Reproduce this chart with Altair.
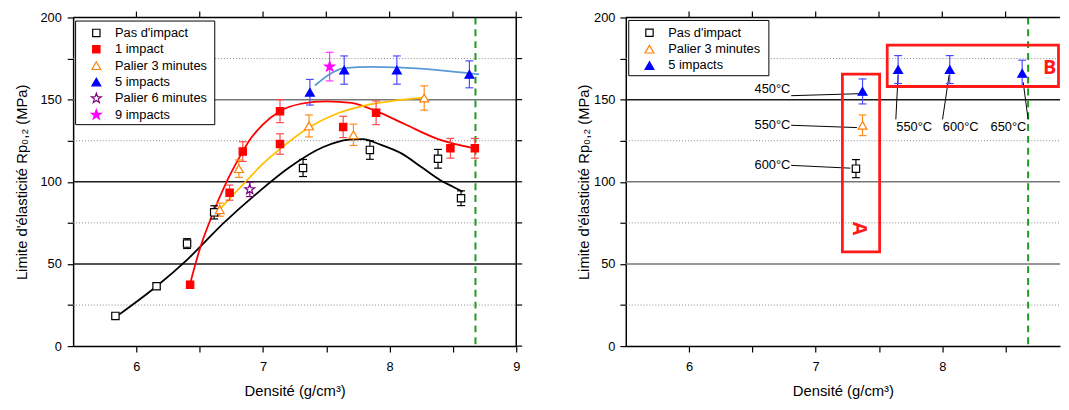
import math
import altair as alt
import pandas as pd

FONT = "Liberation Sans"

# 5-point star as a custom symbol path (Vega has no built-in star)
_pts = []
for k in range(10):
    r = 1.0 if k % 2 == 0 else 0.40
    a = math.radians(-90 + 36 * k)
    _pts.append("%.3f,%.3f" % (r * math.cos(a), r * math.sin(a)))
STAR = "M" + "L".join(_pts) + "Z"

# ---------------- Left panel data ----------------
series_names = ["Pas d'impact", "1 impact", "Palier 3 minutes", "5 impacts", "Palier 6 minutes", "9 impacts"]
series_stroke = ["#000000", "#ff0000", "#ff7f00", "#0000ff", "#800080", "#ff00ff"]
series_fill = ["#ffffff", "#ff0000", "#ffffff", "#0000ff", "#ffffff", "#ff00ff"]
series_shape = ["square", "square", "triangle-up", "triangle-up", STAR, STAR]
series_size = [55, 55, 80, 80, 110, 110]
series_err = ["#000000", "#ff4a4a", "#ff8c1a", "#4a4aff", "#800080", "#ff33ff"]

pas_x = [5.834, 6.159, 6.40, 6.614, 7.316, 7.844, 8.382, 8.564]
pas_y = [18.4, 36.4, 62.4, 81.4, 108.4, 119.4, 114.0, 90.0]
pas_e = [1.5, 1.5, 3.0, 4.0, 5.2, 5.7, 5.7, 4.5]

imp1_x = [6.424, 6.736, 6.84, 7.134, 7.134, 7.633, 7.893, 8.48, 8.673]
imp1_y = [37.4, 93.4, 118.4, 143.0, 123.0, 133.4, 142.0, 120.4, 120.4]
imp1_e = [0.0, 4.6, 6.0, 7.0, 6.2, 6.5, 7.2, 6.0, 6.0]

p3_x = [6.658, 6.809, 7.363, 7.714, 8.273]
p3_y = [83.0, 108.0, 134.0, 128.6, 151.0]
p3_e = [4.0, 5.3, 6.7, 6.5, 7.4]

imp5_x = [7.37, 7.641, 8.057, 8.63]
imp5_y = [154.5, 168.0, 168.0, 165.4]
imp5_e = [7.8, 8.6, 8.6, 8.2]

p6_x = [6.895]
p6_y = [95.4]
p6_e = [4.4]

imp9_x = [7.526]
imp9_y = [170.1]
imp9_e = [8.7]

# fitted curves
fit_black_x = [5.86, 6.159, 6.406, 6.69, 6.952, 7.212, 7.472, 7.68, 7.79, 7.914, 8.1, 8.25, 8.4, 8.5, 8.577]
fit_black_y = [19.0, 36.4, 53.0, 75.0, 93.0, 109.0, 121.0, 125.6, 126.0, 123.0, 117.0, 109.0, 101.0, 97.0, 94.0]
fit_red_x = [6.424, 6.5, 6.6, 6.7, 6.8, 6.9, 7.0, 7.134, 7.3, 7.5, 7.7, 7.893, 8.122, 8.382, 8.673]
fit_red_y = [38.0, 59.0, 80.0, 98.0, 113.0, 126.0, 135.0, 143.0, 147.5, 149.0, 148.0, 143.0, 135.0, 126.0, 120.4]
fit_gold_x = [6.63, 6.8, 7.0, 7.134, 7.342, 7.602, 7.836, 8.05, 8.273]
fit_gold_y = [81.0, 95.0, 111.0, 120.0, 132.0, 142.0, 147.0, 149.5, 151.4]
fit_blue_x = [7.41, 7.526, 7.641, 7.862, 8.057, 8.382, 8.707]
fit_blue_y = [158.6, 165.5, 169.2, 170.0, 169.6, 168.0, 165.4]
fit_colors = ["#000000", "#ff0000", "#ffc000", "#5b9bd5"]

# ---------------- Right panel data ----------------
r_series = ["Pas d'impact", "Palier 3 minutes", "5 impacts"]
r_pas_x, r_pas_y, r_pas_e = [7.318], [108.0], [5.5]
r_p3_x, r_p3_y, r_p3_e = [7.37], [134.4], [6.3]
r_imp5_x = [7.37, 7.651, 8.059, 8.631]
r_imp5_y = [155.0, 168.3, 168.3, 166.0]
r_imp5_e = [7.6, 8.5, 8.5, 8.0]

ann_left_text = ["450°C", "550°C", "600°C"]
ann_left_x = [6.80, 6.80, 6.80]
ann_left_y = [156.5, 134.4, 110.0]
ann_bot_text = ["550°C", "600°C", "650°C"]
ann_bot_x = [7.778, 8.145, 8.522]
ann_bot_y = [133.4, 133.4, 133.4]
ann_line_x1 = [6.806, 6.806, 6.806, 7.633, 8.002, 8.678]
ann_line_y1 = [152.4, 134.4, 110.0, 138.0, 138.0, 138.0]
ann_line_x2 = [7.339, 7.326, 7.274, 7.651, 8.054, 8.639]
ann_line_y2 = [153.6, 133.0, 108.3, 165.0, 165.0, 160.6]

box_x1 = [7.211, 7.565]
box_x2 = [7.505, 8.995]
box_y1 = [57.3, 158.0]
box_y2 = [165.6, 183.2]
box_label = ["A", "B"]
box_label_x = [7.344, 8.847]
box_label_y = [71.6, 169.5]
box_label_angle = [90, 0]

density_line = [8.678]
minor_grid = [25, 75, 125, 175]
major_grid = [50, 100, 150]
left_major_colors = ["#1a1a1a", "#1a1a1a", "#777777"]
right_major_colors = ["#777777", "#777777", "#1a1a1a"]
x_tick_values = [6, 6.5, 7, 7.5, 8, 8.5, 9]
y_tick_values = [0, 25, 50, 75, 100, 125, 150, 175, 200]

# ---------------- layout ----------------
W, H = 449, 333                 # left panel plot area (x 5.5 -> 9)
PX_PER_UNIT = W / 3.5
W_R = 440                       # right panel is cut by the window edge, as in the original
XMAX_R = 5.5 + W_R / PX_PER_UNIT
YS = alt.Scale(domain=[0, 200], nice=False, zero=False)
CAP = 4.0 / PX_PER_UNIT         # half cap width (4 px) in data units

AX_COMMON = dict(domainColor="black", domainWidth=1.5, tickColor="black", tickWidth=1.2,
                 tickSize=6, grid=False, labelFont=FONT, labelFontSize=13, labelColor="black",
                 titleFont=FONT, titleFontSize=15, titleFontWeight="normal", titleColor="black",
                 labelFlush=False)


def x_axis():
    return alt.Axis(values=x_tick_values,
                    labelExpr="datum.value % 1 === 0 ? format(datum.value, 'd') : ''",
                    title="Densité (g/cm³)", labelPadding=9, titlePadding=10, **AX_COMMON)


def y_axis(title_pad, label_pad):
    return alt.Axis(values=y_tick_values,
                    labelExpr="datum.value % 50 === 0 ? format(datum.value, 'd') : ''",
                    title="Limite d'élasticité Rp₀,₂ (MPa)", labelPadding=label_pad,
                    titlePadding=title_pad, **AX_COMMON)


def series_df(groups):
    rows = []
    for name, xs, ys, es in groups:
        i = series_names.index(name)
        for x, y, e in zip(xs, ys, es):
            rows.append({"series": name, "x": x, "y": y, "lo": y - e, "hi": y + e,
                         "xl": x - CAP, "xr": x + CAP,
                         "ecol": series_err[i], "scol": series_stroke[i],
                         "fcol": series_fill[i], "shp": series_shape[i], "sz": series_size[i]})
    return pd.DataFrame(rows)


def frame_layers(XS, width, xmax, right_border):
    top_ticks = [v for v in x_tick_values if v <= xmax]
    layers = [
        alt.Chart(pd.DataFrame({"k": [0]})).mark_rule(color="black", strokeWidth=1.5).encode(
            x=alt.value(0), x2=alt.value(width), y=alt.value(0)),
        alt.Chart(pd.DataFrame({"t": top_ticks})).mark_rule(color="black", strokeWidth=1.2).encode(
            x=alt.X("t:Q", scale=XS), y=alt.value(0), y2=alt.value(-6)),
    ]
    if right_border:
        layers.append(alt.Chart(pd.DataFrame({"k": [0]})).mark_rule(color="black", strokeWidth=1.5).encode(
            x=alt.value(width), y=alt.value(0), y2=alt.value(H)))
        layers.append(alt.Chart(pd.DataFrame({"t": y_tick_values})).mark_rule(
            color="black", strokeWidth=1.2).encode(
            y=alt.Y("t:Q", scale=YS), x=alt.value(width), x2=alt.value(width + 6)))
    return layers


def grid_layers(XS, width, major_colors):
    mn = alt.Chart(pd.DataFrame({"g": minor_grid})).mark_rule(
        strokeDash=[1, 2], color="#8a8a8a", strokeWidth=1).encode(
        x=alt.value(0), x2=alt.value(width), y=alt.Y("g:Q", scale=YS))
    mj = alt.Chart(pd.DataFrame({"g": major_grid, "c": major_colors})).mark_rule(strokeWidth=1.5).encode(
        x=alt.value(0), x2=alt.value(width),
        y=alt.Y("g:Q", scale=YS),
        color=alt.Color("c:N", scale=None))
    gr = alt.Chart(pd.DataFrame({"v": density_line})).mark_rule(
        color="#1e9a1e", strokeDash=[7, 5], strokeWidth=2).encode(
        x=alt.X("v:Q", scale=XS), y=alt.value(0), y2=alt.value(H))
    return [mn, mj, gr]


def error_layers(XS, df):
    rules = alt.Chart(df).mark_rule(strokeWidth=1.2).encode(
        x=alt.X("x:Q", scale=XS),
        y=alt.Y("lo:Q", scale=YS), y2="hi:Q",
        color=alt.Color("ecol:N", scale=None))
    caps_df = pd.concat([df.assign(cy=df["lo"]), df.assign(cy=df["hi"])], ignore_index=True)
    caps = alt.Chart(caps_df).mark_rule(strokeWidth=1.2).encode(
        x=alt.X("xl:Q", scale=XS), x2="xr:Q",
        y=alt.Y("cy:Q", scale=YS),
        color=alt.Color("ecol:N", scale=None))
    return [rules, caps]


def point_layer(XS, df, title_pad, label_pad):
    return alt.Chart(df).mark_point(opacity=1, strokeWidth=1.2).encode(
        x=alt.X("x:Q", scale=XS, axis=x_axis()),
        y=alt.Y("y:Q", scale=YS, axis=y_axis(title_pad, label_pad)),
        stroke=alt.Stroke("scol:N", scale=None),
        fill=alt.Fill("fcol:N", scale=None),
        shape=alt.Shape("shp:N", scale=None),
        size=alt.Size("sz:Q", scale=None),
    )


def legend_layers(names, box, sym_x, txt_x, row0, row_step):
    layers = [alt.Chart(pd.DataFrame({"k": [0]})).mark_rect(
        fill="white", stroke="black", strokeWidth=1).encode(
        x=alt.value(box[0]), x2=alt.value(box[1]), y=alt.value(box[2]), y2=alt.value(box[3]))]
    for j, n in enumerate(names):
        i = series_names.index(n)
        ypx = row0 + j * row_step
        one = pd.DataFrame({"label": [n]})
        layers.append(alt.Chart(one).mark_point(
            shape=series_shape[i], size=series_size[i], strokeWidth=1.2, opacity=1,
            stroke=series_stroke[i], fill=series_fill[i]).encode(
            x=alt.value(sym_x), y=alt.value(ypx)))
        layers.append(alt.Chart(one).mark_text(
            align="left", baseline="middle", font=FONT, fontSize=13, color="black").encode(
            x=alt.value(txt_x), y=alt.value(ypx), text="label:N"))
    return layers


# ---------------- Left chart ----------------
XS_L = alt.Scale(domain=[5.5, 9], nice=False, zero=False)

left_df = series_df([
    ("Pas d'impact", pas_x, pas_y, pas_e),
    ("1 impact", imp1_x, imp1_y, imp1_e),
    ("Palier 3 minutes", p3_x, p3_y, p3_e),
    ("5 impacts", imp5_x, imp5_y, imp5_e),
    ("Palier 6 minutes", p6_x, p6_y, p6_e),
    ("9 impacts", imp9_x, imp9_y, imp9_e),
])

fit_rows = []
for k, (fx, fy) in enumerate([(fit_black_x, fit_black_y), (fit_red_x, fit_red_y),
                               (fit_gold_x, fit_gold_y), (fit_blue_x, fit_blue_y)]):
    for a, b in zip(fx, fy):
        fit_rows.append({"curve": "c%d" % k, "x": a, "y": b, "col": fit_colors[k]})
fit_df = pd.DataFrame(fit_rows)

curves = alt.Chart(fit_df).mark_line(strokeWidth=1.8, interpolate="monotone").encode(
    x=alt.X("x:Q", scale=XS_L),
    y=alt.Y("y:Q", scale=YS),
    color=alt.Color("col:N", scale=None),
    detail="curve:N",
)

left = alt.layer(
    *grid_layers(XS_L, W, left_major_colors),
    curves,
    *error_layers(XS_L, left_df),
    point_layer(XS_L, left_df, 11, 6),
    *frame_layers(XS_L, W, 9.0, True),
    *legend_layers(series_names, (2.5, 143.5, 3.6, 108.6), 23.5, 42.5, 15.6, 16.6),
).properties(width=W, height=H)

# ---------------- Right chart ----------------
XS_R = alt.Scale(domain=[5.5, XMAX_R], nice=False, zero=False)

right_df = series_df([
    ("Pas d'impact", r_pas_x, r_pas_y, r_pas_e),
    ("Palier 3 minutes", r_p3_x, r_p3_y, r_p3_e),
    ("5 impacts", r_imp5_x, r_imp5_y, r_imp5_e),
])

ann_lines = alt.Chart(pd.DataFrame({"x1": ann_line_x1, "y1": ann_line_y1,
                                    "x2": ann_line_x2, "y2": ann_line_y2})).mark_rule(
    color="black", strokeWidth=1).encode(
    x=alt.X("x1:Q", scale=XS_R), y=alt.Y("y1:Q", scale=YS),
    x2="x2:Q", y2="y2:Q")
ann_left = alt.Chart(pd.DataFrame({"t": ann_left_text, "x": ann_left_x, "y": ann_left_y})).mark_text(
    align="right", baseline="middle", font=FONT, fontSize=13, color="black").encode(
    x=alt.X("x:Q", scale=XS_R), y=alt.Y("y:Q", scale=YS), text="t:N")
ann_bot = alt.Chart(pd.DataFrame({"t": ann_bot_text, "x": ann_bot_x, "y": ann_bot_y})).mark_text(
    align="center", baseline="middle", font=FONT, fontSize=13, color="black").encode(
    x=alt.X("x:Q", scale=XS_R), y=alt.Y("y:Q", scale=YS), text="t:N")
box_x2_clipped = [min(v, XMAX_R - 0.012) for v in box_x2]
boxes = alt.Chart(pd.DataFrame({"x1": box_x1, "x2": box_x2_clipped, "y1": box_y1, "y2": box_y2})).mark_rect(
    fillOpacity=0, stroke="#ff1a1a", strokeWidth=2.8).encode(
    x=alt.X("x1:Q", scale=XS_R), x2="x2:Q",
    y=alt.Y("y1:Q", scale=YS), y2="y2:Q")
box_a = alt.Chart(pd.DataFrame({"t": box_label[:1], "x": box_label_x[:1], "y": box_label_y[:1]})).mark_text(
    align="center", baseline="middle", font="Open Sans", fontSize=20, fontWeight="bold",
    color="#ff1a1a", angle=box_label_angle[0]).encode(
    x=alt.X("x:Q", scale=XS_R), y=alt.Y("y:Q", scale=YS), text="t:N")
box_b = alt.Chart(pd.DataFrame({"t": box_label[1:], "x": box_label_x[1:], "y": box_label_y[1:]})).mark_text(
    align="center", baseline="middle", font="Open Sans", fontSize=20, fontWeight="bold",
    color="#ff1a1a").encode(
    x=alt.X("x:Q", scale=XS_R), y=alt.Y("y:Q", scale=YS), text="t:N")

right = alt.layer(
    *grid_layers(XS_R, W_R, right_major_colors),
    ann_lines,
    *error_layers(XS_R, right_df),
    point_layer(XS_R, right_df, 2, 5),
    ann_left, ann_bot, boxes, box_a, box_b,
    *frame_layers(XS_R, W_R, XMAX_R, False),
    *legend_layers(r_series, (3, 145, 3, 59), 24, 43, 15.5, 16.6),
).properties(width=W_R, height=H)

chart = alt.hconcat(left, right, spacing=54).properties(
    padding={"left": 6, "top": 0, "right": 0, "bottom": 0}
).configure_view(strokeWidth=0)

chart.save("out.html", embed_options={"renderer": "svg", "actions": False})
